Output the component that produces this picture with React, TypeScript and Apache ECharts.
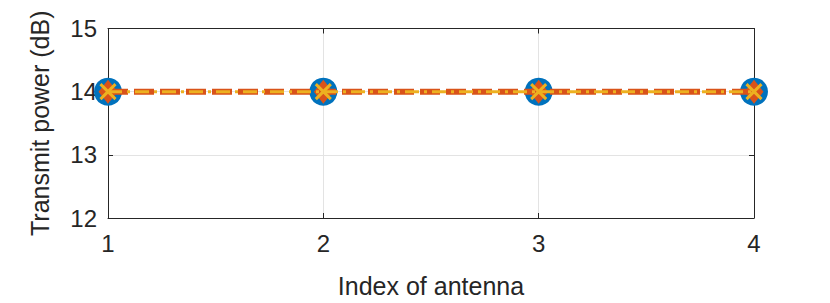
import React, { useEffect, useRef } from "react";
import * as echarts from "echarts";

const antennaIndex = [1, 2, 3, 4];
const seriesA = [14, 14, 14, 14];
const seriesB = [14, 14, 14, 14];
const seriesC = [14, 14, 14, 14];
const xTicks = [1, 2, 3, 4];
const yTicks = [12, 13, 14, 15];

const FONT = "'Liberation Sans', Arial, Helvetica, sans-serif";
const AXIS_COLOR = "#262626";
const GRID_COLOR = "#e3e3e3";

export default function App() {
  const ref = useRef<HTMLDivElement>(null);
  useEffect(() => {
    if (!ref.current) return;
    const chart = echarts.init(ref.current, undefined, { renderer: "svg" });
    const pair = (vals: number[]) => antennaIndex.map((x, i) => [x, vals[i]]);
    const baseAxisLine = { show: true, lineStyle: { color: AXIS_COLOR, width: 1 } };
    const tick = { show: true, inside: true, length: 5, lineStyle: { color: AXIS_COLOR, width: 1 } };
    chart.setOption({
      animation: false,
      backgroundColor: "#ffffff",
      grid: { left: 100, top: 16, right: 68, bottom: 84, containLabel: false },
      xAxis: [
        {
          type: "value",
          min: xTicks[0],
          max: xTicks[xTicks.length - 1],
          interval: 1,
          position: "bottom",
          axisLine: baseAxisLine,
          axisTick: tick,
          splitLine: { show: true, lineStyle: { color: GRID_COLOR, width: 1 } },
          axisLabel: { color: AXIS_COLOR, fontSize: 24, fontFamily: FONT, margin: 13 },
          name: "Index of antenna",
          nameLocation: "middle",
          nameGap: 55,
          nameTextStyle: { color: AXIS_COLOR, fontSize: 25, fontFamily: FONT },
        },
        {
          type: "value",
          min: xTicks[0],
          max: xTicks[xTicks.length - 1],
          interval: 1,
          position: "top",
          axisLine: baseAxisLine,
          axisTick: tick,
          splitLine: { show: false },
          axisLabel: { show: false },
        },
      ],
      yAxis: [
        {
          type: "value",
          min: yTicks[0],
          max: yTicks[yTicks.length - 1],
          interval: 1,
          position: "left",
          axisLine: baseAxisLine,
          axisTick: tick,
          splitLine: { show: true, lineStyle: { color: GRID_COLOR, width: 1 } },
          axisLabel: { color: AXIS_COLOR, fontSize: 24, fontFamily: FONT, margin: 11 },
          name: "Transmit power (dB)",
          nameLocation: "middle",
          nameGap: 56,
          nameTextStyle: { color: AXIS_COLOR, fontSize: 25, fontFamily: FONT },
        },
        {
          type: "value",
          min: yTicks[0],
          max: yTicks[yTicks.length - 1],
          interval: 1,
          position: "right",
          axisLine: baseAxisLine,
          axisTick: tick,
          splitLine: { show: false },
          axisLabel: { show: false },
        },
      ],
      series: [
        {
          type: "line",
          data: pair(seriesA),
          symbol: "circle",
          symbolSize: 28,
          itemStyle: { color: "#0072BD", borderWidth: 0, opacity: 1 },
          lineStyle: { color: "#0072BD", width: 0, opacity: 0 },
          z: 2,
        },
        {
          type: "line",
          data: pair(seriesB),
          symbol: "diamond",
          symbolSize: [19, 24],
          itemStyle: { color: "#D95319", borderColor: "#D95319", borderWidth: 0 },
          lineStyle: { color: "#D95319", width: 6, type: [20, 6] },
          z: 3,
        },
        {
          type: "line",
          data: pair(seriesC),
          symbol: "path://M0,0L10,10M10,0L0,10",
          symbolSize: 15,
          itemStyle: { color: "#EDB120", borderColor: "#EDB120", borderWidth: 3 },
          lineStyle: { color: "#EDB120", width: 3, type: [14, 5, 3, 5] },
          z: 4,
        },
      ],
    });
    return () => chart.dispose();
  }, []);
  return <div ref={ref} style={{ width: 814, height: 295 }} />;
}
